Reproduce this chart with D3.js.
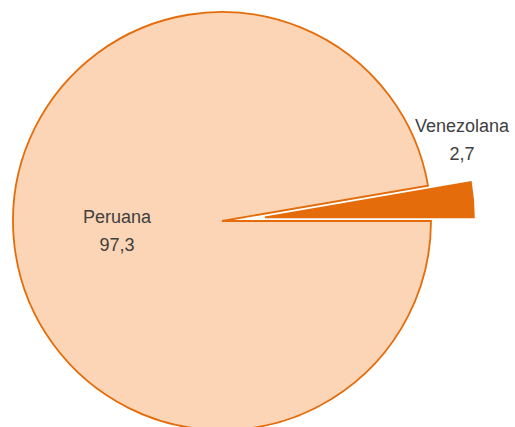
<!DOCTYPE html>
<html>
<head>
<meta charset="utf-8">
<script src="https://cdn.jsdelivr.net/npm/d3@7"></script>
<style>
  body { margin: 0; background: #fff; }
  svg { display: block; }
</style>
</head>
<body>
<script>
var categories = ["Peruana", "Venezolana"];
var values = [97.3, 2.7];
var valueLabels = ["97,3", "2,7"];

var width = 515, height = 427;
var cx = 222, cy = 221, radius = 209;
var explode = [0, 43];
var fills = ["#FBD5B5", "#E46C0A"];

var svg = d3.select("body").append("svg")
  .attr("width", width)
  .attr("height", height);

var pie = d3.pie()
  .sort(null)
  .startAngle(Math.PI / 2)
  .endAngle(Math.PI / 2 + 2 * Math.PI);

var arcs = pie(values);
var arc = d3.arc().innerRadius(0).outerRadius(radius);

var g = svg.append("g").attr("transform", "translate(" + cx + "," + cy + ")");

g.selectAll("path")
  .data(arcs)
.enter()
  .append("path")
  .attr("d", arc)
  .attr("transform", function(d, i) {
    var a = (d.startAngle + d.endAngle) / 2;
    return "translate(" + (Math.sin(a) * explode[i]) + "," + (-Math.cos(a) * explode[i]) + ")";
  })
  .attr("fill", function(d, i) { return fills[i]; })
  .attr("stroke", "#E46C0A")
  .attr("stroke-width", 1.8)
  .attr("stroke-linejoin", "miter");

// label positions (relative to the centre)
var labelPos = [[-105, 2], [240, -89]];

var labels = g.selectAll("text.lbl")
  .data(arcs)
.enter()
  .append("text")
  .attr("class", "lbl")
  .attr("text-anchor", "middle")
  .attr("font-family", "'Liberation Sans', Arial, sans-serif")
  .attr("font-size", "18px")
  .attr("fill", "#404040")
  .attr("transform", function(d, i) {
    return "translate(" + labelPos[i][0] + "," + labelPos[i][1] + ")";
  });

labels.append("tspan")
  .attr("x", 0)
  .attr("y", 0)
  .text(function(d, i) { return categories[i]; });

labels.append("tspan")
  .attr("x", 0)
  .attr("y", 28)
  .text(function(d, i) { return valueLabels[i]; });
</script>
</body>
</html>
